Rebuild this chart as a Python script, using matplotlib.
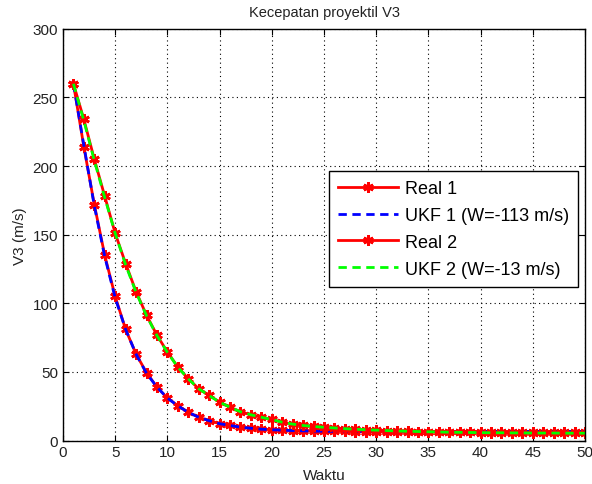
import numpy as np
import matplotlib
matplotlib.use("Agg")
import matplotlib.pyplot as plt

plt.rcParams['font.family'] = ['Liberation Sans', 'DejaVu Sans']

t = np.arange(1, 51)

# real trajectory 1 (W=-113 m/s)
real1 = [260, 214, 172, 135, 105, 81, 63, 49.5, 39, 31,
         25.5, 20.7, 17, 14.6, 12.3, 11, 9.8, 9, 8.3, 7.9,
         7.6, 7.3, 7.1, 6.9, 6.8, 6.7, 6.7, 6.6, 6.6, 6.6,
         6.6, 6.6, 6.6, 6.6, 6.6, 6.6, 6.6, 6.6, 6.6, 6.6,
         6.6, 6.6, 6.6, 6.6, 6.6, 6.6, 6.6, 6.6, 6.6, 6.6]
ukf1 = [260, 215, 171, 134, 104, 81, 63, 49, 39, 31,
        25.3, 20.6, 17, 14.5, 12.3, 11, 9.8, 9, 8.3, 7.9,
        7.6, 7.3, 7.1, 6.9, 6.8, 6.7, 6.7, 6.6, 6.6, 6.6,
        6.6, 6.6, 6.6, 6.6, 6.6, 6.6, 6.6, 6.6, 6.6, 6.6,
        6.6, 6.6, 6.6, 6.6, 6.6, 6.6, 6.6, 6.6, 6.6, 6.6]

# real trajectory 2 (W=-13 m/s)
real2 = [260, 234, 205, 178, 151, 129, 108.5, 91.4, 76.8, 64.6,
         53.6, 45, 37.8, 33, 28, 24.4, 21, 18.8, 17, 15.4,
         13.4, 12, 11, 10.3, 9.7, 9.2, 8.7, 8.3, 7.9, 7.6,
         7.3, 7.0, 6.8, 6.6, 6.4, 6.3, 6.1, 6.0, 5.9, 5.8,
         5.7, 5.7, 5.6, 5.6, 5.5, 5.5, 5.5, 5.4, 5.4, 5.4]
ukf2 = [260, 233, 204, 177, 151, 128, 108, 91, 76.5, 64.3,
        53.5, 45, 37.8, 32.8, 28, 24.3, 21, 18.8, 17, 15.3,
        13.4, 12, 11, 10.3, 9.7, 9.2, 8.7, 8.3, 7.9, 7.6,
        7.3, 7.0, 6.8, 6.6, 6.4, 6.3, 6.1, 6.0, 5.9, 5.8,
        5.7, 5.7, 5.6, 5.6, 5.5, 5.5, 5.5, 5.4, 5.4, 5.4]

fig = plt.figure(figsize=(5.92, 4.85), dpi=100)
ax = fig.add_axes([0.1064, 0.0895, 0.8818, 0.8490])

star = (6, 2, 0)
ax.plot(t, real1, color='red', lw=2, marker=star, ms=7.5, mew=2, mec='red', label='Real 1')
ax.plot(t, ukf1, color='blue', lw=2, ls=(0, (3, 2)), label='UKF 1 (W=-113 m/s)')
ax.plot(t, real2, color='red', lw=2, marker=star, ms=7.5, mew=2, mec='red', label='Real 2')
ax.plot(t, ukf2, color='#00ff00', lw=2, ls=(0, (3, 2)), label='UKF 2 (W=-13 m/s)')

ax.set_xlim(0, 50)
ax.set_ylim(0, 300)
ax.set_xticks(np.arange(0, 51, 5))
ax.set_yticks(np.arange(0, 301, 50))
ax.tick_params(direction='in', top=True, right=True, labelsize=11, length=4,
               labelcolor='#222222')
ax.grid(True, color='black', ls=(0, (1, 3)), lw=0.8)
for s in ax.spines.values():
    s.set_linewidth(1)

ax.set_title('Kecepatan proyektil V3', fontsize=10.5, pad=9, color='#222222')
ax.set_xlabel('Waktu', fontsize=11, labelpad=6, color='#222222')
ax.set_ylabel('V3 (m/s)', fontsize=11, color='#222222')

leg = ax.legend(loc='upper right', bbox_to_anchor=(0.987, 0.655), fontsize=13,
                fancybox=False, edgecolor='black', framealpha=1,
                handlelength=3.3, handletextpad=0.4, borderpad=0.5,
                labelspacing=0.55, borderaxespad=0)
leg.get_frame().set_linewidth(1)

fig.savefig('out.png', dpi=100)
